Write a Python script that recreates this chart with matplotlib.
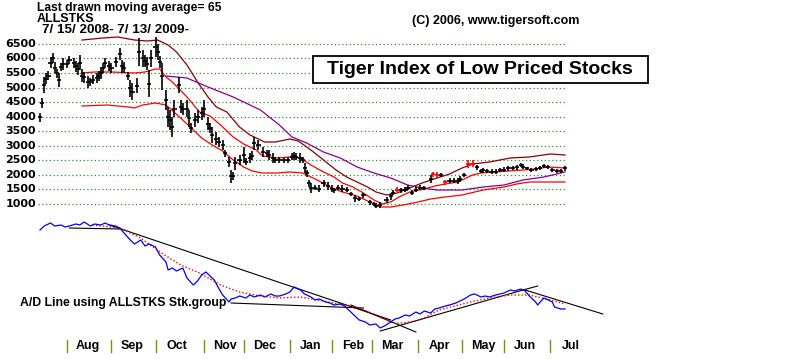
import matplotlib
matplotlib.use('Agg')
import matplotlib.pyplot as plt
import matplotlib.transforms as mtransforms
from matplotlib.patches import Rectangle
import numpy as np
import pandas as pd

plt.rcParams['font.family'] = ['Liberation Sans', 'DejaVu Sans']

# trading calendar 7/15/2008 - 7/13/2009
holidays = ['2008-09-01', '2008-11-27', '2008-12-25', '2009-01-01', '2009-01-19',
            '2009-02-16', '2009-04-10', '2009-05-25', '2009-07-03']
days = pd.bdate_range('2008-07-15', '2009-07-13', freq='C', holidays=holidays)
month_start = np.flatnonzero(days.month != np.roll(days.month, 1))
month_names = [days[i].strftime('%b') for i in month_start]

# price bars (trading day index, high, low)
bar_day = [0, 1, 2, 3, 4, 5, 6, 7, 8, 9, 10, 11, 13, 14, 16, 17, 18, 19, 20, 21, 23, 24, 25, 27, 28,
           29, 30, 31, 33, 34, 36, 38, 39, 40, 42, 43, 44, 46, 47, 49, 50, 51, 52, 53, 55, 56, 57, 58,
           60, 61, 62, 63, 64, 66, 67, 68, 70, 71, 72, 74, 75, 77, 78, 80, 81, 82, 84, 85, 87, 88, 90,
           91, 92, 93, 95, 97, 98, 100, 101, 102, 104, 106, 108, 109, 111, 112, 114, 116, 118, 120,
           121, 122, 124, 125, 126, 127, 128, 129, 131, 133, 135, 137, 139, 140, 142, 144, 146, 148,
           150, 152, 154, 157, 159, 160, 162, 165, 167, 168, 170, 172, 174, 175, 177, 179, 181, 183,
           186, 187, 189, 191, 193, 195, 197, 199, 200, 202, 204, 206, 208, 210, 211, 213, 215, 217,
           219, 221, 223, 225, 227, 229, 230, 232, 234, 236, 238, 240, 242, 244, 246, 248, 250]
bar_high = [4130, 4640, 5360, 5500, 5570, 6050, 6190, 5880, 5640, 5500, 5850, 6020, 5950, 6090, 6020,
            5910, 5850, 6120, 5640, 5540, 5400, 5330, 5430, 5500, 5570, 5710, 5850, 6020, 5910, 5850,
            6050, 6360, 5950, 5880, 5540, 5260, 5160, 5330, 6700, 6290, 6120, 6050, 5600, 6290, 6740,
            6500, 6090, 5850, 4920, 4330, 4230, 3990, 4570, 5360, 4570, 4470, 4570, 4230, 3780, 4130,
            4230, 4330, 4570, 3990, 3780, 3650, 3470, 3300, 3200, 2860, 2620, 2170, 2100, 2620, 2680,
            2960, 2580, 2750, 2820, 3300, 3200, 2960, 2860, 2860, 2750, 2620, 2620, 2580, 2620, 2750,
            2790, 2750, 2750, 2620, 2410, 2170, 1830, 1720, 1650, 1650, 1830, 1760, 1650, 1550, 1650,
            1650, 1580, 1410, 1310, 1240, 1380, 1140, 1070, 1030, 1070, 1240, 1380, 1480, 1580, 1550,
            1580, 1650, 1480, 1580, 1650, 1620, 2000, 2100, 2100, 2070, 1830, 1890, 1890, 1890, 1960,
            2070, 2510, 2510, 2340, 2200, 2240, 2200, 2200, 2200, 2240, 2270, 2310, 2310, 2340, 2410,
            2370, 2270, 2240, 2270, 2310, 2370, 2340, 2240, 2200, 2200, 2310]
bar_low = [3820, 4300, 4810, 5120, 5260, 5670, 5850, 5500, 5330, 5020, 5570, 5600, 5670, 5810, 5670,
           5540, 5430, 5600, 5190, 5160, 4990, 5050, 5120, 5160, 5230, 5300, 5500, 5670, 5570, 5500,
           5710, 5950, 5500, 5500, 5260, 4680, 4570, 4810, 5740, 5710, 5710, 5600, 4680, 5710, 6050,
           5950, 5670, 4920, 4230, 3650, 3540, 3300, 3990, 4810, 4130, 4060, 3990, 3650, 3440, 3650,
           3780, 3890, 3990, 3540, 3440, 3100, 3030, 2960, 2860, 2620, 2270, 1720, 1830, 2170, 2340,
           2410, 2340, 2410, 2510, 2860, 2860, 2620, 2620, 2510, 2410, 2410, 2410, 2410, 2410, 2510,
           2510, 2510, 2410, 2410, 2070, 1930, 1580, 1380, 1480, 1410, 1580, 1480, 1410, 1380, 1480,
           1410, 1410, 1280, 1070, 1100, 1210, 970, 930, 860, 860, 1030, 1140, 1310, 1410, 1380,
           1410, 1480, 1310, 1410, 1480, 1480, 1720, 1930, 1890, 1930, 1650, 1720, 1720, 1690, 1760,
           1930, 2240, 2270, 2170, 2070, 2070, 2070, 2030, 2030, 2100, 2100, 2130, 2170, 2170, 2270,
           2200, 2170, 2100, 2130, 2170, 2240, 2200, 2100, 2070, 2070, 2130]
red_days = [170, 187, 189, 193, 204, 206]

# bands and moving averages
upper_day = [20, 30, 37, 45, 51, 56, 61, 65, 70, 75, 80, 84, 89, 95, 100, 103, 107, 112, 119, 123,
             129, 135, 141, 146, 151, 156, 160, 165, 170, 176, 182, 189, 195, 201, 206, 214, 224,
             233, 243, 250]
upper_val = [6635, 6704, 6738, 6635, 6600, 6635, 6463, 6223, 5776, 5192, 4677, 4333, 4161, 3646,
             3371, 3268, 3130, 3130, 3233, 3165, 2855, 2512, 2168, 1928, 1756, 1584, 1412, 1309,
             1378, 1550, 1722, 1893, 2031, 2237, 2374, 2443, 2581, 2615, 2718, 2684]
mid_day = [20, 26, 34, 45, 50, 55, 57, 60, 63, 70, 76, 81, 86, 92, 97, 103, 106, 113, 119, 124, 129,
           135, 140, 144, 149, 154, 159, 163, 167, 171, 176, 183, 188, 193, 199, 206, 210, 217, 223,
           230, 236, 242, 250]
mid_val = [5501, 5536, 5536, 5501, 5536, 5639, 5639, 5364, 5192, 4677, 4161, 4024, 3714, 3302, 3062,
           2855, 2649, 2581, 2615, 2581, 2340, 2100, 1928, 1722, 1584, 1378, 1137, 1000, 1069, 1241,
           1412, 1515, 1619, 1687, 1756, 1996, 2065, 2100, 2134, 2168, 2203, 2271, 2237]
lower_day = [20, 32, 42, 45, 49, 55, 60, 67, 73, 77, 82, 87, 92, 97, 101, 106, 113, 119, 125, 132,
             138, 144, 151, 157, 162, 167, 173, 180, 186, 193, 201, 211, 221, 227, 233, 250]
lower_val = [4367, 4402, 4333, 4299, 4402, 4470, 4402, 3955, 3543, 3268, 3027, 2821, 2512, 2271,
             2134, 2065, 2065, 2100, 2065, 1825, 1584, 1412, 1275, 1069, 897, 897, 966, 1069, 1172,
             1241, 1309, 1481, 1584, 1687, 1756, 1756]
ma65_day = [60, 70, 80, 92, 105, 114, 120, 127, 135, 143, 151, 159, 167, 175, 182, 189, 201, 211,
            221, 230, 240, 250]
ma65_val = [5398, 5329, 5020, 4677, 4230, 3714, 3302, 3096, 2787, 2581, 2271, 2065, 1893, 1653,
            1550, 1481, 1481, 1584, 1653, 1825, 1928, 2100]

# A/D line (relative units)
ad_day = [0, 2, 5, 7, 10, 12, 14, 17, 19, 21, 24, 26, 29, 31, 33, 36, 38, 40, 43, 45, 48, 50, 52, 55,
          57, 60, 61, 63, 65, 68, 70, 73, 75, 77, 79, 81, 83, 85, 87, 90, 91, 93, 95, 98, 100, 102,
          105, 107, 110, 112, 114, 117, 119, 121, 124, 126, 129, 131, 133, 136, 138, 140, 143, 145,
          148, 150, 152, 155, 157, 160, 162, 164, 167, 169, 171, 174, 176, 179, 181, 183, 186, 188,
          190, 193, 195, 198, 200, 202, 205, 207, 210, 212, 214, 217, 219, 221, 224, 226, 229, 231,
          233, 236, 237, 239, 240, 242, 244, 245, 248, 250]
ad_val = [110, 114, 117, 114, 115, 113, 114, 116, 115, 118, 114, 116, 115, 117, 115, 114, 112, 107,
          100, 96, 100, 94, 96, 93, 85, 78, 70, 72, 69, 72, 62, 55, 59, 65, 68, 64, 60, 52, 45, 38,
          41, 42, 44, 42, 45, 43, 45, 43, 46, 44, 44, 46, 48, 53, 50, 46, 43, 40, 41, 38, 37, 35, 36,
          34, 28, 24, 20, 18, 15, 16, 12, 14, 18, 21, 22, 25, 24, 28, 26, 29, 27, 31, 32, 34, 35, 37,
          39, 41, 45, 46, 43, 44, 43, 45, 46, 47, 50, 49, 51, 49, 44, 38, 35, 40, 42, 40, 38, 33, 31, 31]
adma_day = [25, 38, 48, 57, 67, 76, 86, 95, 105, 114, 124, 140, 152, 162, 168, 173, 181, 190, 205,
            214, 224, 233, 243, 250]
adma_val = [115, 112, 102, 88, 75, 67, 55, 48, 44, 42, 43, 37, 32, 23, 17, 17, 20, 30, 38, 42, 45,
            45, 40, 36]
# trendlines: (start day, start value, end day, end value)
trend_lines = [(14, 112, 38, 111), (33, 115, 167, 20), (91, 37, 154, 32), (148, 35, 179, 8),
               (162, 9, 230, 50), (230, 50, 237, 54), (231, 50, 268, 26)]

price_levels = list(range(1000, 7000, 500))

PX, X0 = 2.1, 40
W, H = 800, 359
xlim = (-X0 / PX, (W - X0) / PX)


def fy(py):
    return 1 - py / H


fig = plt.figure(figsize=(W / 100, H / 100), dpi=100)
ax = fig.add_axes([0, fy(215), 1, 185 / H])
ax.set_xlim(*xlim)
ax.set_ylim(622, 6979)
ax.axis('off')
ad = fig.add_axes([0, fy(340), 1, 125 / H])
ad.set_xlim(*xlim)
ad.set_ylim(0, 125)
ad.axis('off')

# dotted grid + price labels
ax.hlines(price_levels, -1, 250.5, colors='#2f8f2f', lw=0.9, linestyles=(0, (1, 2)))
ylab = mtransforms.blended_transform_factory(fig.transFigure, ax.transData)
for v in price_levels:
    ax.text(36 / W, v, str(v), transform=ylab, ha='right', va='center',
            fontsize=8, fontweight='bold', family='DejaVu Sans')

# bands
ax.plot(upper_day, upper_val, color='#8b0000', lw=0.9)
ax.plot(mid_day, mid_val, color='#ff0000', lw=0.9)
ax.plot(lower_day, lower_val, color='#ff0000', lw=0.9)
ax.plot(ma65_day, ma65_val, color='#8b008b', lw=0.9)

# price bars
bd = np.array(bar_day, dtype=float)
bh = np.array(bar_high, dtype=float)
bl = np.array(bar_low, dtype=float)
bc = (bh + bl) / 2
cols = ['#ff0000' if d in red_days else 'black' for d in bar_day]
ax.vlines(bd, bl, bh, colors=cols, lw=1.2)
ax.hlines(bc, bd - 1.0, bd + 1.0, colors=cols, lw=1.2)

# A/D panel
for d0, v0, d1, v1 in trend_lines:
    ad.plot([d0, d1], [v0, v1], color='black', lw=0.8, clip_on=False)
ad.plot(adma_day, adma_val, color='#ff0000', lw=1.0, ls=(0, (1, 1.5)))
ad.plot(ad_day, ad_val, color='#0000ff', lw=0.9)
fig.text(20 / W, fy(303), 'A/D Line using ALLSTKS Stk.group', fontsize=8.8,
         fontweight='bold', va='center')

# month axis
mt = mtransforms.blended_transform_factory(ad.transData, fig.transFigure)
for i, name in zip(month_start, month_names):
    ad.plot([i, i], [fy(352), fy(340)], transform=mt, color='#8a8a00', lw=1, clip_on=False)
    ad.text(i + 10, fy(346), name, transform=mt, ha='center', va='center',
            fontsize=9, fontweight='bold')

# header texts
fig.text(37 / W, fy(8), 'Last drawn moving average= 65', fontsize=8.7, fontweight='bold', va='center')
fig.text(37 / W, fy(19), 'ALLSTKS', fontsize=9, fontweight='bold', va='center')
fig.text(42 / W, fy(30), '7/ 15/ 2008- 7/ 13/ 2009-', fontsize=9.6, fontweight='bold', va='center')
fig.text(412 / W, fy(21), '(C) 2006, www.tigersoft.com', fontsize=9, fontweight='bold', va='center')

# title box
fig.patches.append(Rectangle((313 / W, fy(83)), 335 / W, 27 / H, transform=fig.transFigure,
                             facecolor='white', edgecolor='black', lw=1.3, zorder=5))
fig.text(480 / W, fy(70), 'Tiger Index of Low Priced Stocks', ha='center', va='center',
         fontsize=14, fontweight='bold', zorder=6)

fig.savefig('out.png', dpi=100, facecolor='white')
